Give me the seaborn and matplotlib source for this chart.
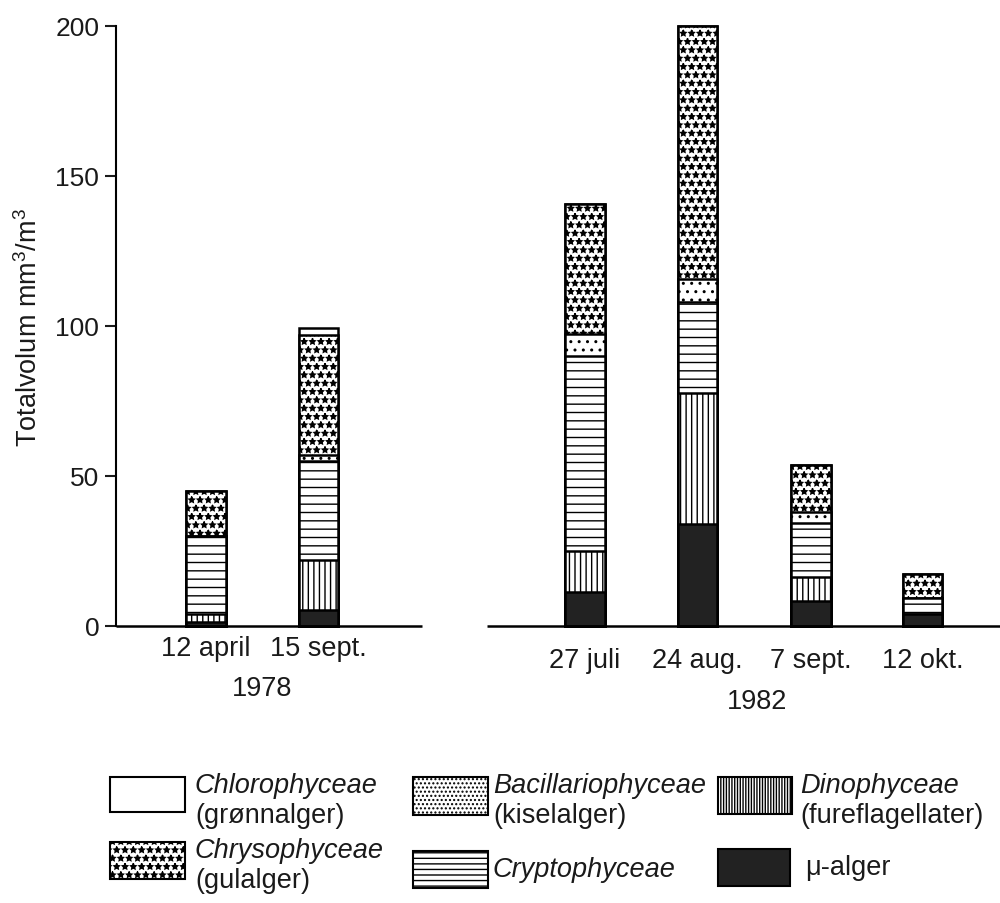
import numpy as np
import pandas as pd
import matplotlib
matplotlib.use("Agg")
import matplotlib.pyplot as plt
import matplotlib.patches as mpatches
import seaborn as sns

# sampling dates, grouped by year
dates = ["12 april", "15 sept.", "27 juli", "24 aug.", "7 sept.", "12 okt."]
years = ["1978", "1982"]
year_of_date = ["1978", "1978", "1982", "1982", "1982", "1982"]
xpos = [0, 1, 3.37, 4.37, 5.38, 6.37]

# volumes (mm3/m3), stacked from the bottom up
mu_alger = [1.5, 5.5, 11.5, 34.0, 8.3, 4.0]
dinophyceae = [2.5, 16.5, 13.5, 43.7, 8.0, 0.0]
cryptophyceae = [26.0, 33.0, 65.0, 30.3, 18.0, 5.5]
bacillariophyceae = [0.0, 2.0, 7.3, 7.7, 3.7, 0.0]
chrysophyceae = [15.0, 40.0, 43.4, 84.3, 15.7, 8.0]
chlorophyceae = [0.0, 2.5, 0.0, 0.0, 0.0, 0.0]

# name, values, facecolor, hatch in bars
layers = [
    ("mu", mu_alger, "#222222", None),
    ("dino", dinophyceae, "white", "|||"),
    ("crypto", cryptophyceae, "white", "--"),
    ("bacil", bacillariophyceae, "white", ".."),
    ("chryso", chrysophyceae, "white", "**"),
    ("chloro", chlorophyceae, "white", None),
]

df = pd.DataFrame({"x": xpos, "date": dates, "year": year_of_date})
running = np.zeros(len(xpos))
for name, vals, fc, h in layers:
    running = running + np.array(vals)
    df[name + "_top"] = running

sns.set_theme(style="ticks")
plt.rcParams["font.family"] = ["Liberation Sans", "DejaVu Sans"]
plt.rcParams["mathtext.fontset"] = "custom"
plt.rcParams["mathtext.rm"] = "Liberation Sans"
plt.rcParams["mathtext.it"] = "Liberation Sans:italic"
plt.rcParams["hatch.linewidth"] = 1.0

fig = plt.figure(figsize=(10, 9.04), dpi=100)
ax = fig.add_axes([0.116, 1 - 627 / 904, 0.884, 600 / 904])

# draw cumulative bars from the top layer down, each one covering the next
for name, vals, fc, h in reversed(layers):
    sns.barplot(data=df, x="x", y=name + "_top", orient="x", native_scale=True,
                width=0.356, color=fc, saturation=1, hatch=h,
                edgecolor="black", linewidth=1.8, errorbar=None, ax=ax)

for p in ax.patches:
    p.set_clip_on(False)

ax.set_xlim(-0.8, 7.06)
ax.set_ylim(0, 200)
ax.set_yticks([0, 50, 100, 150, 200])
ax.set_xticks([])
ax.set_xlabel("")
ax.set_ylabel("")
for s in ["top", "right", "bottom"]:
    ax.spines[s].set_visible(False)
ax.spines["left"].set_linewidth(1.5)
ax.spines["left"].set_color("black")
ax.tick_params(axis="y", direction="out", length=8, width=1.5, labelsize=19,
               pad=4, colors="#1a1a1a")

# separate baselines for the two years
ax.hlines(0, -0.8, 1.92, color="black", lw=1.8, clip_on=False)
ax.hlines(0, 2.5, 7.06, color="black", lw=1.8, clip_on=False)

# date and year labels
for x, d, yr in zip(xpos, dates, year_of_date):
    yy = -7.3 if yr == "1978" else -11.3
    ax.text(x, yy, d, ha="center", va="center", fontsize=19.5, color="#1a1a1a",
            clip_on=False)
ax.text(0.5, -20.5, years[0], ha="center", va="center", fontsize=19.5,
        color="#1a1a1a", clip_on=False)
ax.text(4.9, -25, years[1], ha="center", va="center", fontsize=19.5,
        color="#1a1a1a", clip_on=False)

fig.text(0.029, 1 - 327 / 904, r"Totalvolum mm$^3$/m$^3$", rotation=90,
         ha="center", va="center", fontsize=19.5, color="#1a1a1a")

# legend drawn by hand: patch box (px) + italic name + plain subtitle
legend_items = [
    (110, 778, 75, 35, "white", None, "Chlorophyceae", "(grønnalger)", 195),
    (413, 778, 75, 38, "white", "....", "Bacillariophyceae", "(kiselalger)", 493),
    (718, 778, 74, 37, "white", "||||||", "Dinophyceae", "(fureflagellater)", 800),
    (110, 843, 75, 37, "white", "**", "Chrysophyceae", "(gulalger)", 195),
    (413, 852, 75, 37, "white", "---", "Cryptophyceae", None, 493),
    (718, 850, 72, 37, "#222222", None, "\u03bc-alger", None, 805),
]
for px, py, w, h, fc, hat, name, sub, tx in legend_items:
    rect = mpatches.Rectangle((px / 1000, 1 - (py + h) / 904), w / 1000, h / 904,
                              transform=fig.transFigure, facecolor=fc,
                              hatch=hat, edgecolor="black", lw=1.5)
    fig.add_artist(rect)
    if sub is None:
        style = "normal" if name.startswith("\u03bc") else "italic"
        fig.text(tx / 1000, 1 - (py + 25) / 904, name, fontsize=19.5,
                 style=style, va="baseline", color="#1a1a1a")
    else:
        fig.text(tx / 1000, 1 - (py + 15) / 904, name, fontsize=19.5,
                 style="italic", va="baseline", color="#1a1a1a")
        fig.text(tx / 1000, 1 - (py + 45) / 904, sub, fontsize=19.5,
                 va="baseline", color="#1a1a1a")

fig.savefig("out.png", dpi=100, facecolor="white")
